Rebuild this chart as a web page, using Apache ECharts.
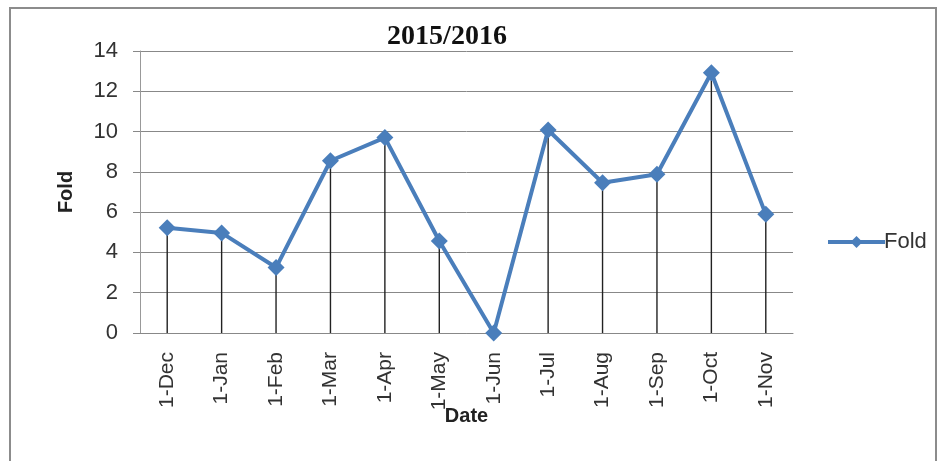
<!DOCTYPE html>
<html><head><meta charset="utf-8">
<script src="https://cdn.jsdelivr.net/npm/echarts@6/dist/echarts.min.js"></script>
<style>html,body{margin:0;padding:0;background:#fff}#c{width:940px;height:461px}</style>
</head><body><div id="c"></div>
<script>
const categories = ['1-Dec','1-Jan','1-Feb','1-Mar','1-Apr','1-May','1-Jun','1-Jul','1-Aug','1-Sep','1-Oct','1-Nov'];
const foldValues = [5.23, 4.97, 3.25, 8.55, 9.7, 4.57, 0, 10.08, 7.46, 7.88, 12.92, 5.89];
const yTicks = [0, 2, 4, 6, 8, 10, 12, 14];
const titleText = '2015/2016';
const seriesName = 'Fold';

const chart = echarts.init(document.getElementById('c'));
const lineColor = '#4a7ebb';
chart.setOption({
  animation: false,
  backgroundColor: '#fff',
  title: {
    text: titleText, left: 442, top: 18, textAlign: 'center',
    textStyle: {fontFamily: 'Liberation Serif', fontWeight: 'bold', fontSize: 28, color: '#111'}
  },
  legend: {
    data: [seriesName], left: 821, top: 226, itemWidth: 57, itemHeight: 15, itemGap: 0,
    lineStyle: {width: 4, color: lineColor},
    itemStyle: {color: lineColor},
    textStyle: {fontFamily: 'Liberation Sans', fontSize: 22, color: '#333', padding: [0,0,0,-6]}
  },
  grid: {left: 140, right: 147, top: 51, bottom: 128, containLabel: false},
  xAxis: {
    type: 'category', data: categories, boundaryGap: true,
    name: 'Date', nameLocation: 'middle', nameGap: 73, nameMoveOverlap: false,
    nameTextStyle: {fontFamily: 'Liberation Sans', fontWeight: 'bold', fontSize: 20, color: '#222'},
    axisLine: {lineStyle: {color: '#888', width: 1}},
    axisTick: {show: false},
    axisLabel: {rotate: 90, fontFamily: 'Liberation Sans', fontSize: 21, color: '#333', margin: 19}
  },
  yAxis: {
    type: 'value', min: yTicks[0], max: yTicks[yTicks.length-1], interval: 2,
    name: 'Fold', nameLocation: 'middle', nameGap: 64, nameRotate: 90, nameMoveOverlap: false,
    nameTextStyle: {fontFamily: 'Liberation Sans', fontWeight: 'bold', fontSize: 20, color: '#222'},
    axisLine: {show: true, lineStyle: {color: '#999', width: 1}},
    axisTick: {show: true, length: 7, lineStyle: {color: '#888'}},
    axisLabel: {fontFamily: 'Liberation Sans', fontSize: 22, color: '#333', margin: 22},
    splitLine: {lineStyle: {color: '#888', width: 1}}
  },
  graphic: [{
    type: 'rect', shape: {x: 10, y: 8, width: 926, height: 470},
    style: {fill: 'none', stroke: '#8c8c8c', lineWidth: 2}, silent: true
  }],
  series: [
    {
      name: 'drop', type: 'bar', data: foldValues, barWidth: 1.4, barGap: '-100%',
      itemStyle: {color: '#222'}, z: 1, silent: true
    },
    {
      name: seriesName, type: 'line', data: foldValues,
      symbol: 'diamond', symbolSize: 17,
      lineStyle: {color: lineColor, width: 4},
      itemStyle: {color: lineColor},
      z: 3
    }
  ]
});
</script></body></html>
